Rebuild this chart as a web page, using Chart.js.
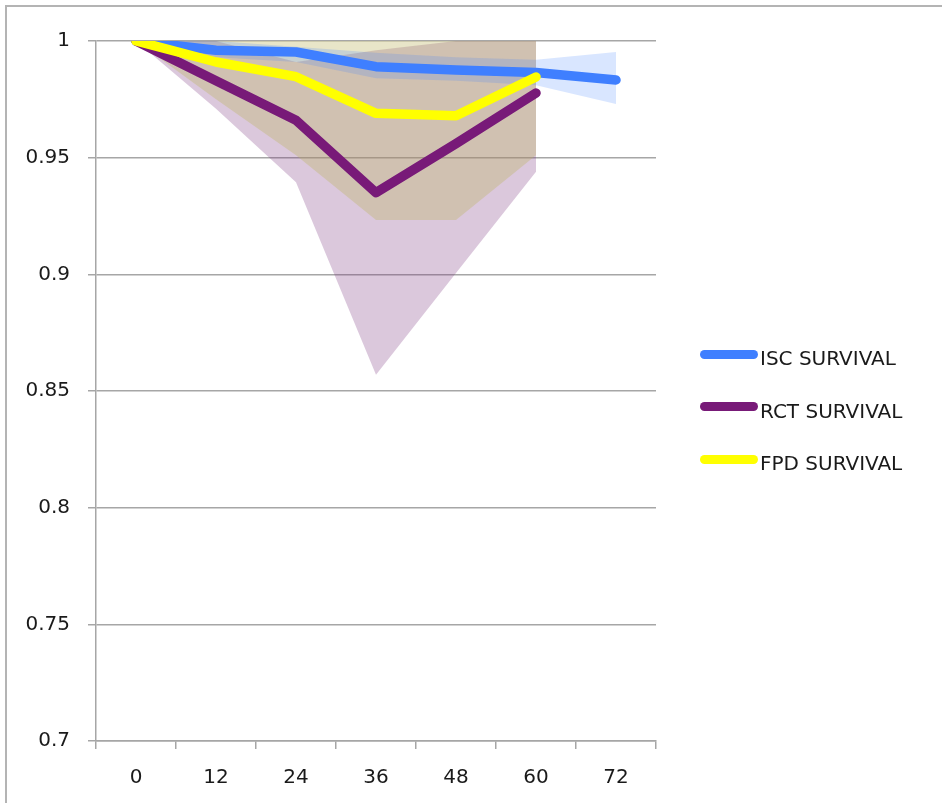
<!DOCTYPE html>
<html>
<head>
<meta charset="utf-8">
<title>Survival</title>
<script src="https://cdn.jsdelivr.net/npm/chart.js@4.4.0/dist/chart.umd.min.js"></script>
<style>
  html, body { margin: 0; padding: 0; background: #fff; overflow: hidden; }
  #frame {
    position: absolute; left: 5px; top: 5px; width: 2000px; height: 2000px;
    border-left: 2px solid #b4b4b4; border-top: 2px solid #b4b4b4;
  }
  #wrap { position: absolute; left: 0; top: 0; width: 942px; height: 803px; }
  #legend {
    position: absolute; left: 700px; top: 332px;
    font-family: 'DejaVu Sans', sans-serif; font-size: 20px; color: #1a1a1a;
  }
  .item { height: 52.5px; display: flex; align-items: center; }
  .swatch { width: 58px; height: 9px; border-radius: 5px; margin-right: 2px; position: relative; top: -4px; }
</style>
</head>
<body>
<div id="frame"></div>
<div id="wrap"><canvas id="survChart" width="942" height="803"></canvas></div>
<div id="legend"></div>

<script>
// months since start
const months = ['0', '12', '24', '36', '48', '60', '72'];

const iscSurvival = [1, 0.996, 0.9953, 0.989, 0.9876, 0.9865, 0.9833];
const iscHigh     = [1, 1, 0.9975, 0.995, 0.993, 0.992, 0.9953];
const iscLow      = [1, 0.993, 0.991, 0.984, 0.983, 0.981, 0.973];

const rctSurvival = [1, 0.983, 0.966, 0.935, 0.956, 0.9777, null];
const rctHigh     = [1, 1, 0.991, 0.996, 1, 1, null];
const rctLow      = [1, 0.971, 0.9395, 0.857, 0.9006, 0.944, null];

const fpdSurvival = [1, 0.991, 0.9847, 0.969, 0.968, 0.9846, null];
const fpdHigh     = [1, 1, 1, 1, 1, 1, null];
const fpdLow      = [1, 0.975, 0.951, 0.9233, 0.9233, 0.951, null];

const seriesNames = ['ISC SURVIVAL', 'RCT SURVIVAL', 'FPD SURVIVAL'];
const lineColors  = ['#3f7fff', '#781a78', '#ffff00'];
const bandColors  = ['rgba(64,128,255,0.2)', 'rgba(122,50,125,0.27)', 'rgba(189,181,98,0.35)'];

const gridGray = '#a6a6a6';
const tickFont = { family: "'DejaVu Sans', sans-serif", size: 20 };

// invisible upper edge + filled lower edge for a confidence band
function band(hi, lo, color, order) {
  return [
    { data: hi, borderWidth: 0, pointRadius: 0, fill: false, order },
    { data: lo, borderWidth: 0, pointRadius: 0, fill: '-1', backgroundColor: color, order }
  ];
}

function line(label, data, color, order) {
  return {
    label, data, order,
    borderColor: color, backgroundColor: color,
    borderWidth: 9.5, borderCapStyle: 'round', borderJoinStyle: 'round',
    pointRadius: 0, tension: 0, fill: false
  };
}

const datasets = [
  ...band(rctHigh, rctLow, bandColors[1], 6),
  ...band(fpdHigh, fpdLow, bandColors[2], 5),
  ...band(iscHigh, iscLow, bandColors[0], 4),
  line(seriesNames[0], iscSurvival, lineColors[0], 3),
  line(seriesNames[1], rctSurvival, lineColors[1], 2),
  line(seriesNames[2], fpdSurvival, lineColors[2], 1)
];

const ctx = document.getElementById('survChart').getContext('2d');
const chart = new Chart(ctx, {
  type: 'line',
  data: { labels: months, datasets },
  options: {
    responsive: false,
    animation: false,
    layout: { padding: { left: 0, top: 41, right: 286, bottom: 0 } },
    plugins: { legend: { display: false }, tooltip: { enabled: false } },
    scales: {
      x: {
        offset: true,
        grid: { offset: true, drawOnChartArea: false, tickLength: 8, color: gridGray, lineWidth: 1.5 },
        border: { color: gridGray, width: 1.5 },
        ticks: { padding: 17, font: tickFont, color: '#1a1a1a' },
        afterFit: s => { s.height = 62; }
      },
      y: {
        min: 0.7,
        max: 1,
        grid: { tickLength: 8, color: gridGray, lineWidth: 1.5 },
        border: { color: gridGray, width: 1.5 },
        ticks: { stepSize: 0.05, padding: 18, font: tickFont, color: '#1a1a1a', callback: v => +v.toFixed(2) },
        afterFit: s => { s.width = 96; }
      }
    }
  }
});

// legend on the right, built from the line series
const legendEl = document.getElementById('legend');
seriesNames.forEach((name, i) => {
  const row = document.createElement('div');
  row.className = 'item';
  row.innerHTML = `<span class="swatch" style="background:${lineColors[i]}"></span><span>${name}</span>`;
  legendEl.appendChild(row);
});
</script>
</body>
</html>
